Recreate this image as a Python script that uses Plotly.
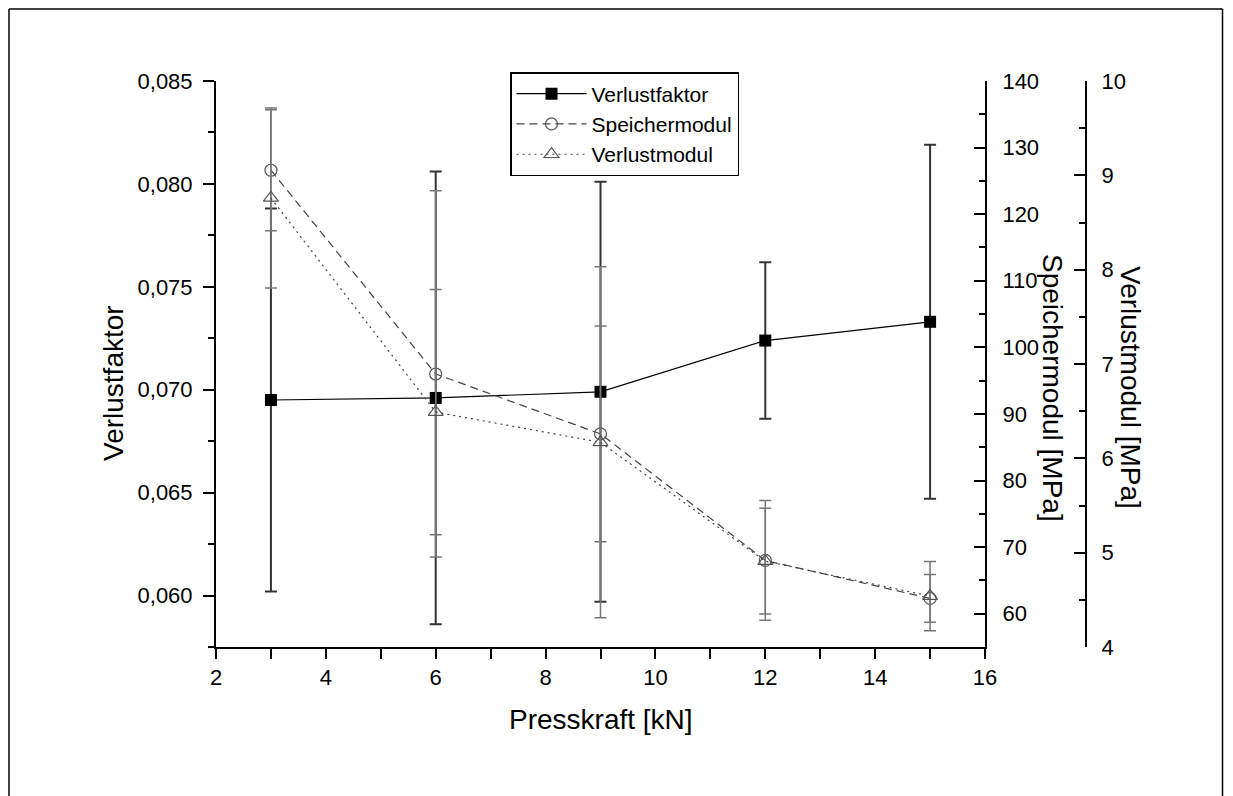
import plotly.graph_objects as go

# ---- data ----
presskraft = [3, 6, 9, 12, 15]

verlustfaktor = [0.06950, 0.06960, 0.06990, 0.07239, 0.07330]
verlustfaktor_err = [0.0093, 0.0110, 0.0102, 0.0038, 0.0086]

speichermodul = [126.6, 96.0, 87.0, 68.0, 62.3]
speichermodul_err = [9.1, 27.5, 16.2, 9.0, 3.6]

verlustmodul = [8.76, 6.49, 6.17, 4.91, 4.54]
verlustmodul_err = [0.955, 1.30, 1.86, 0.56, 0.367]

x_ticks = [2, 4, 6, 8, 10, 12, 14, 16]

# ---- layout geometry (pixels) ----
W, H = 1233, 796
L, R, T, B = 216, 1086, 81, 647
X_END = 985
PW, PH = R - L, B - T


def px(x):
    return (x - L) / PW


def py(y):
    return (B - y) / PH


FONT = "Liberation Sans, Arial, Helvetica, sans-serif"

fig = go.Figure()

fig.add_trace(go.Scatter(
    x=presskraft, y=verlustfaktor, name="Verlustfaktor", mode="lines+markers",
    line=dict(color="black", width=1.2),
    marker=dict(symbol="square", size=12, color="black"),
    error_y=dict(type="data", array=verlustfaktor_err, color="#333333",
                 thickness=2, width=6),
    yaxis="y",
))
fig.add_trace(go.Scatter(
    x=presskraft, y=speichermodul, name="Speichermodul", mode="lines+markers",
    line=dict(color="#444444", width=1.2, dash="8px,5px"),
    marker=dict(symbol="circle-open", size=12, color="#555555",
                line=dict(width=1.2)),
    error_y=dict(type="data", array=speichermodul_err, color="#777777",
                 thickness=1.5, width=6),
    yaxis="y2",
))
fig.add_trace(go.Scatter(
    x=presskraft, y=verlustmodul, name="Verlustmodul", mode="lines+markers",
    line=dict(color="#444444", width=1.2, dash="2px,4px"),
    marker=dict(symbol="triangle-up-open", size=13, color="#555555",
                line=dict(width=1.2)),
    error_y=dict(type="data", array=verlustmodul_err, color="#777777",
                 thickness=1.5, width=6),
    yaxis="y3",
))

axis_common = dict(showline=True, linewidth=2, linecolor="black", showgrid=False,
                   zeroline=False, tickwidth=2, tickcolor="black",
                   tickfont=dict(family=FONT, size=22, color="black"))

fig.update_layout(
    width=W, height=H,
    margin=dict(l=L, r=W - R, t=T, b=H - B, pad=0),
    paper_bgcolor="white", plot_bgcolor="white",
    separators=",.",
    font=dict(family=FONT, size=22, color="black"),
    xaxis=dict(domain=[0, px(X_END)], range=[2, 16], tickmode="array",
               tickvals=x_ticks, ticktext=[str(v) for v in x_ticks],
               ticks="outside", ticklen=10, ticklabelstandoff=0,
               minor=dict(dtick=1, tick0=2, ticks="outside", ticklen=10,
                          tickwidth=2, tickcolor="black", showgrid=False),
               **axis_common),
    yaxis=dict(range=[0.0575, 0.085], dtick=0.005, tick0=0.06, tickformat=".3f",
               ticks="outside", ticklen=11, ticklabelstandoff=6,
               minor=dict(dtick=0.0025, tick0=0.06, ticks="outside", ticklen=6,
                          tickwidth=2, tickcolor="black", showgrid=False),
               **axis_common),
    yaxis2=dict(overlaying="y", side="right", anchor="x", range=[55, 140],
                dtick=10, tick0=60, ticks="inside", ticklen=11,
                ticklabelstandoff=11,
                minor=dict(dtick=5, tick0=60, ticks="inside", ticklen=6,
                           tickwidth=2, tickcolor="black", showgrid=False),
                **axis_common),
    yaxis3=dict(overlaying="y", side="right", anchor="free", position=1.0,
                range=[4, 10], dtick=1, tick0=4, ticks="inside", ticklen=11,
                ticklabelstandoff=10,
                minor=dict(dtick=0.5, tick0=4, ticks="inside", ticklen=6,
                           tickwidth=2, tickcolor="black", showgrid=False),
                **axis_common),
    showlegend=True,
    legend=dict(x=px(510), y=py(72), xanchor="left", yanchor="top",
                bordercolor="black", borderwidth=1.5, bgcolor="white",
                font=dict(family=FONT, size=21, color="black"),
                itemwidth=70, tracegroupgap=0),
)

# axis titles
title_font = dict(family=FONT, size=28, color="black")
fig.add_annotation(text="Verlustfaktor", x=px(113), y=py(383), xref="paper",
                   yref="paper", showarrow=False, textangle=-90,
                   xanchor="center", yanchor="middle", font=title_font)
fig.add_annotation(text="Presskraft [kN]", x=px(601), y=py(719), xref="paper",
                   yref="paper", showarrow=False,
                   xanchor="center", yanchor="middle", font=title_font)
fig.add_annotation(text="Speichermodul [MPa]", x=px(1053), y=py(388), xref="paper",
                   yref="paper", showarrow=False, textangle=90,
                   xanchor="center", yanchor="middle", font=title_font)
fig.add_annotation(text="Verlustmodul [MPa]", x=px(1131), y=py(387), xref="paper",
                   yref="paper", showarrow=False, textangle=90,
                   xanchor="center", yanchor="middle", font=title_font)

# outer frame (top, left, right)
frame = dict(color="black", width=1.5)
fig.add_shape(type="line", xref="paper", yref="paper", x0=px(9), x1=px(1222.5),
              y0=py(9), y1=py(9), line=frame)
fig.add_shape(type="line", xref="paper", yref="paper", x0=px(9), x1=px(9),
              y0=py(9), y1=py(800), line=frame)
fig.add_shape(type="line", xref="paper", yref="paper", x0=px(1222.5), x1=px(1222.5),
              y0=py(9), y1=py(800), line=frame)

fig.write_html("out.html")
